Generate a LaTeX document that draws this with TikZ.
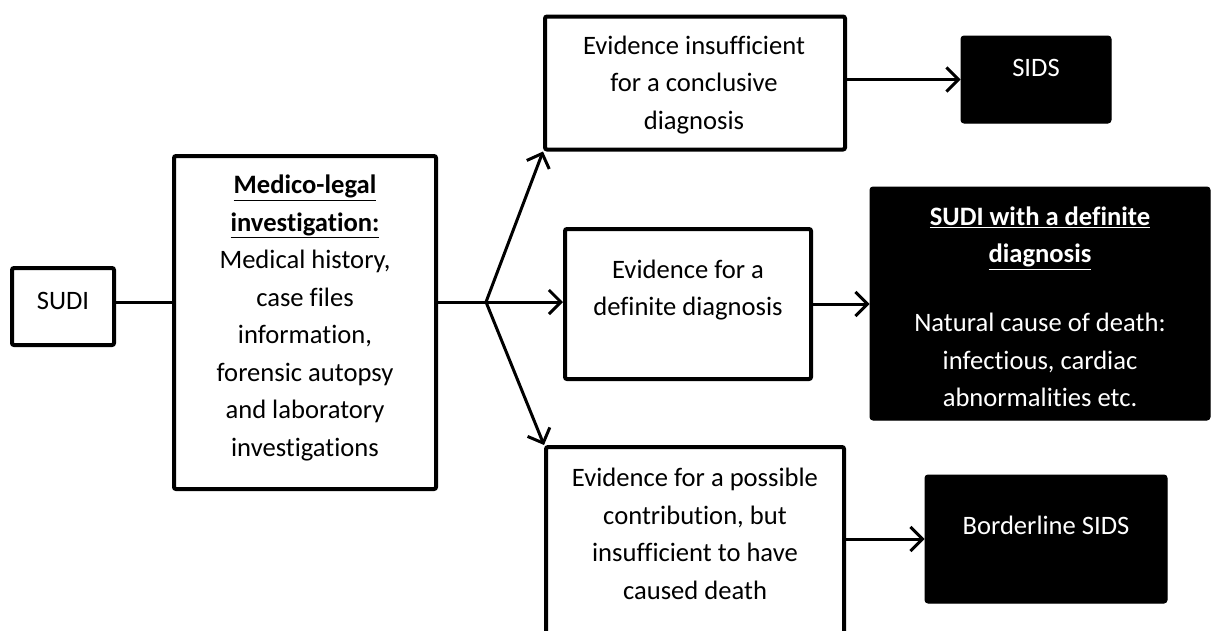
\documentclass[tikz,border=0pt]{standalone}
\usepackage{fontspec}
\setmainfont{Carlito}[Ligatures=NoCommon]
\usetikzlibrary{arrows.meta}
\begin{document}
\begin{tikzpicture}[x=1pt,y=-1pt,
  box/.style={draw=black,line width=4pt,rounded corners=2pt,inner sep=0pt,fill=white},
  blk/.style={fill=black,draw=black,line width=1pt,rounded corners=3pt,inner sep=0pt},
  txt/.style={align=center,font=\fontsize{26.6}{37.5}\selectfont,inner sep=0pt},
  wtxt/.style={txt,text=white},
  conn/.style={line width=3pt},
  arr/.style={conn,-{Straight Barb[length=12pt,width=24pt]}}]
\useasboundingbox (0,0) rectangle (1212,630);
\clip (0,0) rectangle (1212,630);
% boxes
\node[box,minimum width=102pt,minimum height=77pt] (sudi) at (63,306.5) {};
\node[box,minimum width=262pt,minimum height=333pt] (med) at (305,322.5) {};
\node[box,minimum width=300pt,minimum height=133pt] (ev1) at (695,83) {};
\node[box,minimum width=246pt,minimum height=150pt] (ev2) at (688,304) {};
\node[box,minimum width=298pt,minimum height=213pt] (ev3) at (695,553.5) {};
\node[blk,minimum width=150pt,minimum height=87pt] (sids) at (1036,79.5) {};
\node[blk,minimum width=340pt,minimum height=233pt] (sdef) at (1040,303.5) {};
\node[blk,minimum width=242pt,minimum height=128pt] (bsids) at (1046,539) {};
% texts
\node[txt] (tsudi) at (63,301) {SUDI};
\node[txt] (tmed) at (305,318) {\underline{\textbf{Medico-legal}}\\\underline{\textbf{investigation:}}\\Medical history,\\case files\\information,\\forensic autopsy\\and laboratory\\investigations};
\node[txt] (tev1) at (694,85) {Evidence insufficient\\for a conclusive\\diagnosis};
\node[wtxt] (tsids) at (1036,68) {SIDS};
\node[txt] (tev2) at (688,290) {Evidence for a\\definite diagnosis};
\node[wtxt] (tdef1) at (1040,238) {\underline{\textbf{SUDI with a definite}}\\\underline{\textbf{diagnosis}}};
\node[wtxt] (tdef2) at (1040,360) {Natural cause of death:\\infectious, cardiac\\abnormalities etc.};
\node[txt] (tev3) at (695,534) {Evidence for a possible\\contribution, but\\insufficient to have\\caused death};
\node[wtxt] (tbs) at (1046,525) {Borderline SIDS};
% connectors
\coordinate (fork) at (486,302);
\draw[conn] (sudi.east |- fork) -- (med.west |- fork);
\draw[conn] (med.east |- fork) -- (fork);
\draw[arr] (fork) -- (ev1.south west);
\draw[arr] (fork) -- (ev2.west |- fork);
\draw[arr] (fork) -- (ev3.north west);
\draw[arr] (ev1.east |- sids.west) -- (sids.west);
\draw[arr] (ev2.east) -- (sdef.west |- ev2.east);
\draw[arr] (ev3.east |- bsids.west) -- (bsids.west);
\end{tikzpicture}
\end{document}
